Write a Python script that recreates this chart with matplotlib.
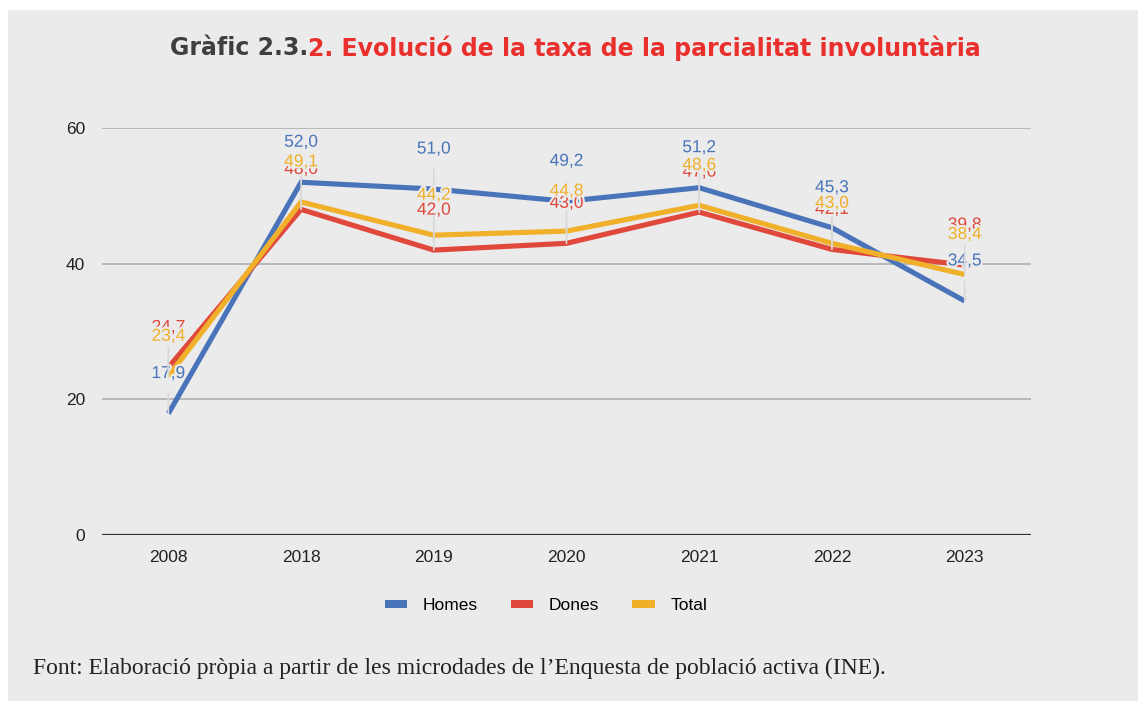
import matplotlib.pyplot as plt
import matplotlib.patheffects as pe
from matplotlib.patches import Rectangle
from matplotlib.lines import Line2D

anys = ["2008", "2018", "2019", "2020", "2021", "2022", "2023"]
homes = [17.9, 52.0, 51.0, 49.2, 51.2, 45.3, 34.5]
dones = [24.7, 48.0, 42.0, 43.0, 47.6, 42.1, 39.8]
total = [23.4, 49.1, 44.2, 44.8, 48.6, 43.0, 38.4]

fons = "#ebebeb"
colors = {"Homes": "#4a74b9", "Dones": "#e0483b", "Total": "#f0b02a"}

fig = plt.figure(figsize=(11.38, 7.01), dpi=100)
fig.patch.set_facecolor("white")
fig.patches.append(Rectangle((8 / 1138, 0), 1 - 8 / 1138, 1 - 10 / 701,
                             transform=fig.transFigure, facecolor=fons,
                             edgecolor="none", zorder=-10))

ax = fig.add_axes([102 / 1138, (701 - 535) / 701, (1031 - 102) / 1138, (535 - 128) / 701])
ax.set_facecolor(fons)
for s in ax.spines.values():
    s.set_visible(False)

x = list(range(len(anys)))
ax.set_xlim(-0.5, len(anys) - 0.5)
ax.set_ylim(0, 60)
ax.set_yticks([0, 20, 40, 60])
ax.grid(axis="y", color="#b4b4b4", linewidth=1.3, zorder=1)
ax.axhline(0, color="#333333", linewidth=1.6, zorder=2)
ax.tick_params(length=0, labelsize=12.5, pad=12, labelcolor="#222222")
ax.tick_params(axis="x", pad=11)
ax.set_xticks(x)
ax.set_xticklabels(anys)
for lab in ax.get_xticklabels() + ax.get_yticklabels():
    lab.set_fontfamily("Liberation Sans")

series = [("Homes", homes), ("Dones", dones), ("Total", total)]
for i, (nom, vals) in enumerate(series):
    ax.plot(x, vals, color=colors[nom], linewidth=3.7, zorder=3 + i,
            solid_joinstyle="miter", solid_capstyle="butt")

# etiquetes de valor, uns 40 px per sobre de cada punt
for nom, vals in series:
    for xi, v in zip(x, vals):
        ax.annotate(f"{v:.1f}".replace(".", ","), xy=(xi, v),
                    xytext=(0, 40), textcoords="offset pixels",
                    ha="center", va="center", fontsize=12.5,
                    family="Liberation Sans", color=colors[nom], zorder=8,
                    path_effects=[pe.withStroke(linewidth=3, foreground=fons)],
                    arrowprops=dict(arrowstyle="-", color="#d8d8d8", lw=1.2,
                                    shrinkA=7, shrinkB=0))

handles = [Line2D([], [], color=colors[n], linewidth=5.8, solid_capstyle="butt")
           for n, _ in series]
ax.legend(handles, [n for n, _ in series], loc="center",
          bbox_to_anchor=(546 / 1138, (701 - 605) / 701),
          bbox_transform=fig.transFigure, ncol=3, frameon=False,
          handlelength=1.3, columnspacing=1.9, handletextpad=0.9,
          prop={"family": "Liberation Sans", "size": 12.5})

# títol en dos colors, centrat
ty = (701 - 48) / 701
t1 = fig.text(0, ty, "Gràfic 2.3.", fontsize=17, fontweight="bold",
              family="DejaVu Sans", color="#3f3f3f", va="center")
t2 = fig.text(0, ty, "2. Evolució de la taxa de la parcialitat involuntària",
              fontsize=17, fontweight="bold", family="DejaVu Sans",
              color="#e9302d", va="center")
fig.canvas.draw()
r = fig.canvas.get_renderer()
w1 = t1.get_window_extent(r).width
w2 = t2.get_window_extent(r).width
x0 = 575 - (w1 + w2) / 2
t1.set_x(x0 / 1138)
t2.set_x((x0 + w1) / 1138)

fig.text(33 / 1138, (701 - 668) / 701,
         "Font: Elaboració pròpia a partir de les microdades de l’Enquesta de població activa (INE).",
         fontsize=17, family="Liberation Serif", color="#222222", va="center")

fig.savefig("out.png", dpi=100, facecolor=fig.get_facecolor())
